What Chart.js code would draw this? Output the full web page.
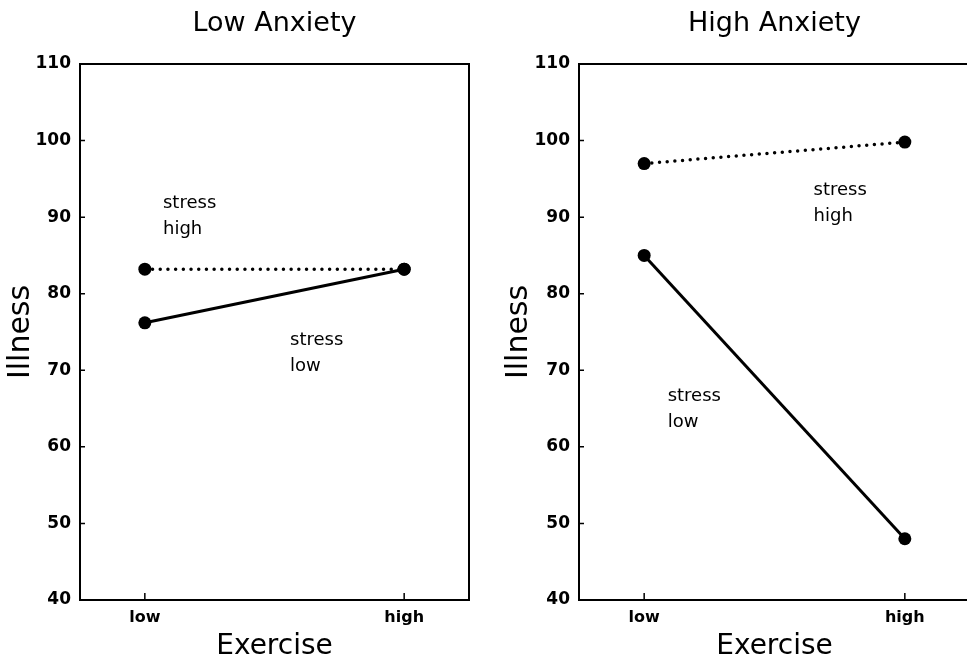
<!DOCTYPE html>
<html>
<head>
<meta charset="utf-8">
<script src="https://cdn.jsdelivr.net/npm/chart.js@4.4.1/dist/chart.umd.min.js"></script>
<style>
  html, body { margin: 0; padding: 0; background: #fff; overflow: hidden; }
  .panel { position: absolute; top: 0; height: 664px; }
  #leftBox { left: 0; width: 487px; }
  #rightBox { left: 487px; width: 500px; }
</style>
</head>
<body>
<div class="panel" id="leftBox"><canvas id="lowChart"></canvas></div>
<div class="panel" id="rightBox"><canvas id="highChart"></canvas></div>
<script>
// exercise levels on the x axis
var exerciseLevels = ['low', 'high'];
var illnessTicks = [40, 50, 60, 70, 80, 90, 100, 110];

// Low Anxiety panel
var lowAnxHighStress = [83.2, 83.2];
var lowAnxLowStress = [76.2, 83.2];
// High Anxiety panel
var highAnxHighStress = [97, 99.8];
var highAnxLowStress = [85, 48];

// text notes placed in data coordinates
var lowAnxNotes = [
  { x: 0.07, y: 91.8, lines: ['stress', 'high'] },
  { x: 0.56, y: 73.9, lines: ['stress', 'low'] }
];
var highAnxNotes = [
  { x: 0.65, y: 93.5, lines: ['stress', 'high'] },
  { x: 0.09, y: 66.6, lines: ['stress', 'low'] }
];

var FONT = "'DejaVu Sans', sans-serif";
Chart.defaults.font.family = FONT;
Chart.defaults.color = '#000';

function toPoints(vals) {
  return vals.map(function (v, i) { return { x: i, y: v }; });
}

// frame, inward tick marks and text notes
var framePlugin = {
  id: 'frame',
  afterDraw: function (chart, args, opts) {
    var ctx = chart.ctx;
    var a = chart.chartArea;
    var xs = chart.scales.x, ys = chart.scales.y;
    ctx.save();
    ctx.strokeStyle = '#000';
    ctx.lineWidth = 2;
    ctx.strokeRect(a.left, a.top, a.right - a.left, a.bottom - a.top);
    ctx.lineWidth = 1.5;
    ctx.beginPath();
    ys.ticks.forEach(function (t) {
      var py = ys.getPixelForValue(t.value);
      ctx.moveTo(a.left, py);
      ctx.lineTo(a.left + 5, py);
    });
    xs.ticks.forEach(function (t) {
      var px = xs.getPixelForValue(t.value);
      ctx.moveTo(px, a.bottom);
      ctx.lineTo(px, a.bottom - 7);
    });
    ctx.stroke();
    ctx.fillStyle = '#000';
    ctx.font = '18px ' + FONT;
    ctx.textBaseline = 'middle';
    ctx.textAlign = 'left';
    (opts.notes || []).forEach(function (n) {
      var px = xs.getPixelForValue(n.x);
      var py = ys.getPixelForValue(n.y);
      n.lines.forEach(function (line, k) {
        ctx.fillText(line, px, py + k * 26);
      });
    });
    ctx.restore();
  }
};

function makePanel(canvasId, titleText, highStress, lowStress, notes, yWidth, yTitlePad, padRight) {
  return new Chart(document.getElementById(canvasId), {
    type: 'line',
    data: {
      datasets: [
        {
          label: 'stress high',
          data: toPoints(highStress),
          borderColor: '#000',
          backgroundColor: '#000',
          borderWidth: 3.5,
          borderDash: [0, 7.7],
          borderCapStyle: 'round',
          pointRadius: 6.5,
          pointBackgroundColor: '#000',
          pointBorderWidth: 0
        },
        {
          label: 'stress low',
          data: toPoints(lowStress),
          borderColor: '#000',
          backgroundColor: '#000',
          borderWidth: 3,
          pointRadius: 6.5,
          pointBackgroundColor: '#000',
          pointBorderWidth: 0
        }
      ]
    },
    options: {
      responsive: true,
      maintainAspectRatio: false,
      animation: false,
      layout: { padding: { left: 0, right: padRight, top: 0, bottom: 0 } },
      plugins: {
        legend: { display: false },
        tooltip: { enabled: false },
        title: {
          display: true,
          text: titleText,
          fullSize: false,
          color: '#000',
          font: { size: 27, weight: 'normal', family: FONT },
          padding: { top: 8, bottom: 23.6 }
        },
        frame: { notes: notes }
      },
      scales: {
        x: {
          type: 'linear',
          min: -0.25,
          max: 1.25,
          grid: { display: false, drawTicks: false },
          border: { display: false },
          afterBuildTicks: function (s) {
            s.ticks = exerciseLevels.map(function (l, i) { return { value: i }; });
          },
          afterFit: function (s) { s.height = 64; },
          ticks: {
            padding: 8,
            color: '#000',
            font: { size: 16, weight: 'bold' },
            callback: function (v) { return exerciseLevels[v]; }
          },
          title: {
            display: true,
            text: 'Exercise',
            color: '#000',
            font: { size: 28, weight: 'normal' },
            padding: { top: 0, bottom: 0 }
          }
        },
        y: {
          min: illnessTicks[0],
          max: illnessTicks[illnessTicks.length - 1],
          grid: { display: false, drawTicks: false },
          border: { display: false },
          afterBuildTicks: function (s) {
            s.ticks = illnessTicks.map(function (v) { return { value: v }; });
          },
          afterFit: function (s) { s.width = yWidth; },
          ticks: {
            padding: 9,
            color: '#000',
            font: { size: 17, weight: 'bold' }
          },
          title: {
            display: true,
            text: 'Illness',
            color: '#000',
            font: { size: 30, weight: 'normal' },
            padding: { top: yTitlePad, bottom: 0 }
          }
        }
      }
    },
    plugins: [framePlugin]
  });
}

makePanel('lowChart', 'Low Anxiety', lowAnxHighStress, lowAnxLowStress, lowAnxNotes, 80, 3, 18);
makePanel('highChart', 'High Anxiety', highAnxHighStress, highAnxLowStress, highAnxNotes, 92, 14, 17);
</script>
</body>
</html>
